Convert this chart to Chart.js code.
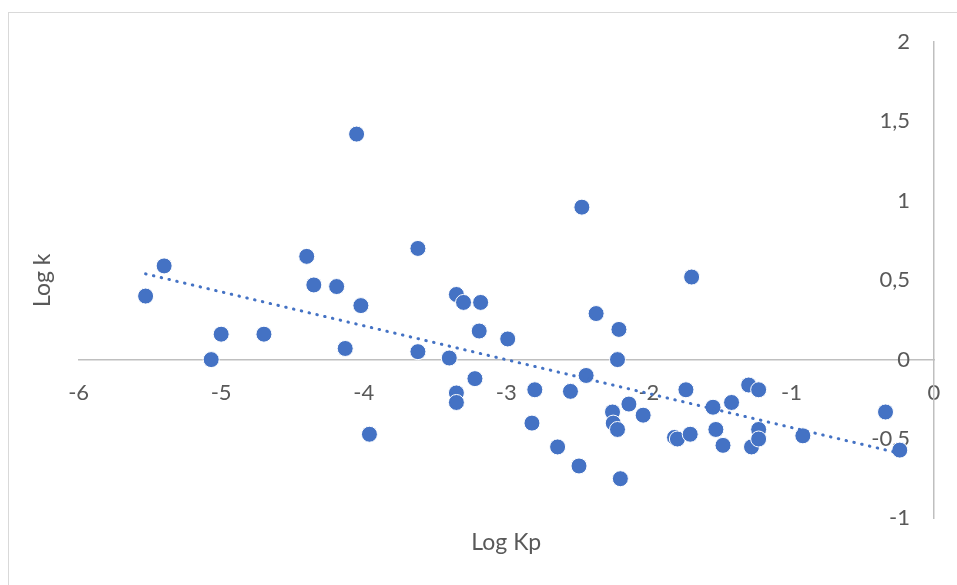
<!DOCTYPE html>
<html>
<head>
<meta charset="utf-8">
<script src="https://cdn.jsdelivr.net/npm/chart.js@4"></script>
<style>
    body { margin: 0; background: #ffffff; }
    #frame { position: absolute; left: 8px; top: 12px; width: 1000px; height: 600px;
             border-left: 1.5px solid #d9d9d9; border-top: 1.5px solid #d9d9d9; }
    #myChart { position: absolute; left: 0; top: 0; }
</style>
</head>
<body>
<div id="frame"></div>
<canvas id="myChart" width="957" height="585"></canvas>
<script>
// values
var logKp = [-5.53, -5.40, -5.07, -5.00, -4.70, -4.40, -4.35, -4.19, -4.13, -4.05,
    -4.02, -3.96, -3.62, -3.62, -3.40, -3.35, -3.35, -3.35, -3.30, -3.22,
    -3.19, -3.18, -2.99, -2.82, -2.80, -2.64, -2.55, -2.49, -2.47, -2.44,
    -2.37, -2.255, -2.25, -2.22, -2.22, -2.21, -2.20, -2.14, -2.04, -1.82,
    -1.80, -1.74, -1.71, -1.70, -1.55, -1.53, -1.48, -1.42, -1.30, -1.28,
    -1.23, -1.23, -1.23, -0.92, -0.34, -0.24];
var logK = [0.40, 0.59, 0.00, 0.16, 0.16, 0.65, 0.47, 0.46, 0.07, 1.42,
    0.34, -0.47, 0.70, 0.05, 0.01, 0.41, -0.21, -0.27, 0.36, -0.12,
    0.18, 0.36, 0.13, -0.40, -0.19, -0.55, -0.20, -0.67, 0.96, -0.10,
    0.29, -0.33, -0.40, -0.44, 0.00, 0.19, -0.75, -0.28, -0.35, -0.49,
    -0.50, -0.19, -0.47, 0.52, -0.30, -0.44, -0.54, -0.27, -0.16, -0.55,
    -0.19, -0.44, -0.50, -0.48, -0.33, -0.57];

// linear trendline ends
var trendX = [-5.53, -0.24];
var trendY = [0.54, -0.59];

var xTitle = 'Log Kp';
var yTitle = 'Log k';

var points = logKp.map(function (x, i) { return { x: x, y: logK[i] }; });
var trend = trendX.map(function (x, i) { return { x: x, y: trendY[i] }; });

function comma(v) { return String(v).replace('.', ','); }

var ctx = document.getElementById('myChart').getContext('2d');

var chart = new Chart(ctx, {
    type: 'scatter',
    data: {
        datasets: [{
            type: 'line',
            label: 'Trend',
            data: trend,
            borderColor: '#4472C4',
            borderWidth: 3,
            borderDash: [0.5, 7.5],
            borderCapStyle: 'round',
            pointRadius: 0,
            fill: false,
            order: 0
        }, {
            label: 'Log k',
            data: points,
            backgroundColor: '#4472C4',
            borderColor: '#ffffff',
            borderWidth: 1,
            pointRadius: 8,
            order: 1
        }]
    },
    options: {
        responsive: false,
        animation: false,
        layout: {
            padding: { left: 10, top: 42, right: 23, bottom: 9 }
        },
        plugins: {
            legend: { display: false },
            tooltip: { enabled: false },
            title: {
                display: true,
                text: yTitle,
                position: 'left',
                fullSize: false,
                color: '#595959',
                font: { family: 'Lato', size: 23, weight: 'normal' },
                padding: { top: 19, bottom: 22 }
            },
            subtitle: {
                display: true,
                text: xTitle,
                position: 'bottom',
                fullSize: false,
                color: '#595959',
                font: { family: 'Lato', size: 23, weight: 'normal' },
                padding: { top: 10, bottom: 20 }
            }
        },
        scales: {
            x: {
                type: 'linear',
                min: -6,
                max: 0,
                position: { y: 0 },
                // labels may hang over the plot edges, as in Excel
                afterFit: function (scale) { scale.paddingLeft = 0; scale.paddingRight = 0; },
                grid: { display: false, drawTicks: false },
                border: { display: true, color: '#bfbfbf', width: 1.5 },
                ticks: {
                    stepSize: 1,
                    color: '#595959',
                    font: { family: 'Lato', size: 22 },
                    padding: 20,
                    maxRotation: 0,
                    callback: function (v) { return comma(v); }
                }
            },
            y: {
                type: 'linear',
                min: -1,
                max: 2,
                position: 'right',
                afterFit: function (scale) { scale.width = 0; },
                grid: { display: false, drawTicks: false },
                border: { display: true, color: '#bfbfbf', width: 1.5 },
                ticks: {
                    stepSize: 0.5,
                    mirror: true,
                    color: '#595959',
                    font: { family: 'Lato', size: 22 },
                    padding: -24,
                    callback: function (v) { return comma(v); }
                }
            }
        }
    }
});
</script>
</body>
</html>
